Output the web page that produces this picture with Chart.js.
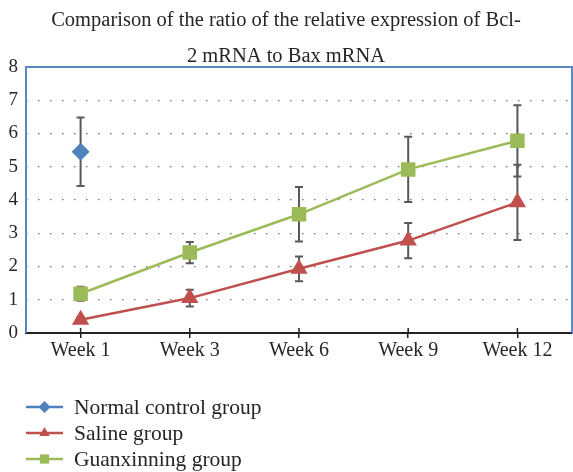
<!DOCTYPE html>
<html>
<head>
<meta charset="utf-8">
<script src="https://cdn.jsdelivr.net/npm/chart.js@4.4.1/dist/chart.umd.min.js"></script>
<style>
  html, body { margin: 0; padding: 0; background: #fff; }
</style>
</head>
<body>
<canvas id="chart" width="573" height="472"></canvas>
<script>
// values
const weeks = ["Week 1", "Week 3", "Week 6", "Week 9", "Week 12"];
const normalMean = [5.45, null, null, null, null];
const normalErr = [1.03, null, null, null, null];
const salineMean = [0.40, 1.05, 1.93, 2.78, 3.93];
const salineErr = [0.08, 0.25, 0.37, 0.53, 1.13];
const guanMean = [1.18, 2.42, 3.57, 4.92, 5.78];
const guanErr = [0.21, 0.32, 0.82, 0.98, 1.07];
const titleLines = ["Comparison of the ratio of the relative expression of Bcl-", "2 mRNA to Bax mRNA"];

const FONT = "'Liberation Serif', 'DejaVu Serif', serif";
const TEXT = "#262626";

// error bars, frame and little tick marks drawn with the chart's scales
const extras = {
  id: "extras",
  beforeDatasetsDraw(chart) {
    const { ctx, chartArea: a, scales: { x, y } } = chart;
    ctx.save();
    // blue frame on left, top and right
    ctx.strokeStyle = "#5B87C5";
    ctx.lineWidth = 2;
    ctx.beginPath();
    ctx.moveTo(a.left, a.bottom);
    ctx.lineTo(a.left, a.top);
    ctx.lineTo(a.right, a.top);
    ctx.lineTo(a.right, a.bottom);
    ctx.stroke();
    // tick marks poking above the x axis
    ctx.strokeStyle = "#222";
    ctx.lineWidth = 1.5;
    weeks.forEach((w, i) => {
      const px = x.getPixelForValue(i);
      ctx.beginPath();
      ctx.moveTo(px, a.bottom);
      ctx.lineTo(px, a.bottom - 5);
      ctx.stroke();
    });
    // error bars
    ctx.strokeStyle = "#595959";
    ctx.lineWidth = 2;
    chart.data.datasets.forEach(ds => {
      ds.data.forEach((v, i) => {
        const e = ds.errors[i];
        if (v == null || e == null) return;
        const px = x.getPixelForValue(i);
        const top = y.getPixelForValue(v + e);
        const bot = y.getPixelForValue(v - e);
        ctx.beginPath();
        ctx.moveTo(px, top); ctx.lineTo(px, bot);
        ctx.moveTo(px - 4, top); ctx.lineTo(px + 4, top);
        ctx.moveTo(px - 4, bot); ctx.lineTo(px + 4, bot);
        ctx.stroke();
      });
    });
    ctx.restore();
  },
  afterDraw(chart) {
    // legend: line with marker, one row per series
    const { ctx, chartArea: a } = chart;
    ctx.save();
    ctx.font = "21.5px " + FONT;
    ctx.textBaseline = "middle";
    chart.data.datasets.forEach((ds, i) => {
      const rowY = a.bottom + 74 + i * 26;
      ctx.strokeStyle = ds.borderColor;
      ctx.lineWidth = 2.5;
      ctx.beginPath();
      ctx.moveTo(26, rowY); ctx.lineTo(63, rowY);
      ctx.stroke();
      ctx.fillStyle = ds.backgroundColor;
      Chart.helpers.drawPoint(ctx, {
        pointStyle: ds.pointStyle, radius: ds.legendRadius, rotation: 0, borderWidth: 0
      }, 44.5, rowY);
      ctx.fillStyle = TEXT;
      ctx.fillText(ds.label, 74, rowY + 1);
    });
    ctx.restore();
  }
};

new Chart(document.getElementById("chart"), {
  type: "line",
  data: {
    labels: weeks,
    datasets: [
      {
        label: "Normal control group", data: normalMean, errors: normalErr,
        borderColor: "#4F81BD", backgroundColor: "#4F81BD",
        pointStyle: "rectRot", pointRadius: 9, legendRadius: 6, showLine: false
      },
      {
        label: "Saline group", data: salineMean, errors: salineErr,
        borderColor: "#C0504D", backgroundColor: "#C0504D", borderWidth: 2.5,
        pointStyle: "triangle", pointRadius: 7.5, legendRadius: 6
      },
      {
        label: "Guanxinning group", data: guanMean, errors: guanErr,
        borderColor: "#9BBB59", backgroundColor: "#9BBB59", borderWidth: 2.5,
        pointStyle: "rect", pointRadius: 8.5, legendRadius: 6.5
      }
    ]
  },
  options: {
    responsive: false,
    animation: false,
    devicePixelRatio: 1,
    layout: { autoPadding: false, padding: { left: 0, right: 1, top: 0, bottom: 0 } },
    elements: { point: { borderWidth: 0, hoverRadius: 9 }, line: { tension: 0 } },
    plugins: {
      legend: { display: false },
      tooltip: { enabled: false },
      title: {
        display: true,
        text: titleLines,
        color: TEXT,
        font: { family: FONT, size: 20.5, weight: "normal", lineHeight: "36px" },
        padding: { top: 3, bottom: -8 }
      }
    },
    scales: {
      x: {
        offset: true,
        grid: { display: true, drawOnChartArea: false, tickLength: 5, color: "#222", lineWidth: 1.5 },
        border: { display: true, color: "#222", width: 2 },
        ticks: { color: TEXT, font: { family: FONT, size: 20 }, padding: 1, maxRotation: 0 },
        afterFit(scale) {
          scale.height = 139;
          scale.paddingLeft = 0;
          scale.paddingRight = 0;
        }
      },
      y: {
        min: 0, max: 8,
        ticks: { stepSize: 1, color: TEXT, font: { family: FONT, size: 19 }, padding: 8 },
        grid: { color: "#707070", lineWidth: 1.2, drawTicks: false, borderDash: [1.5, 10.5] },
        border: { display: false, dash: [1.5, 10.5] },
        afterFit(scale) { scale.width = 26; }
      }
    }
  },
  plugins: [extras]
});
</script>
</body>
</html>
